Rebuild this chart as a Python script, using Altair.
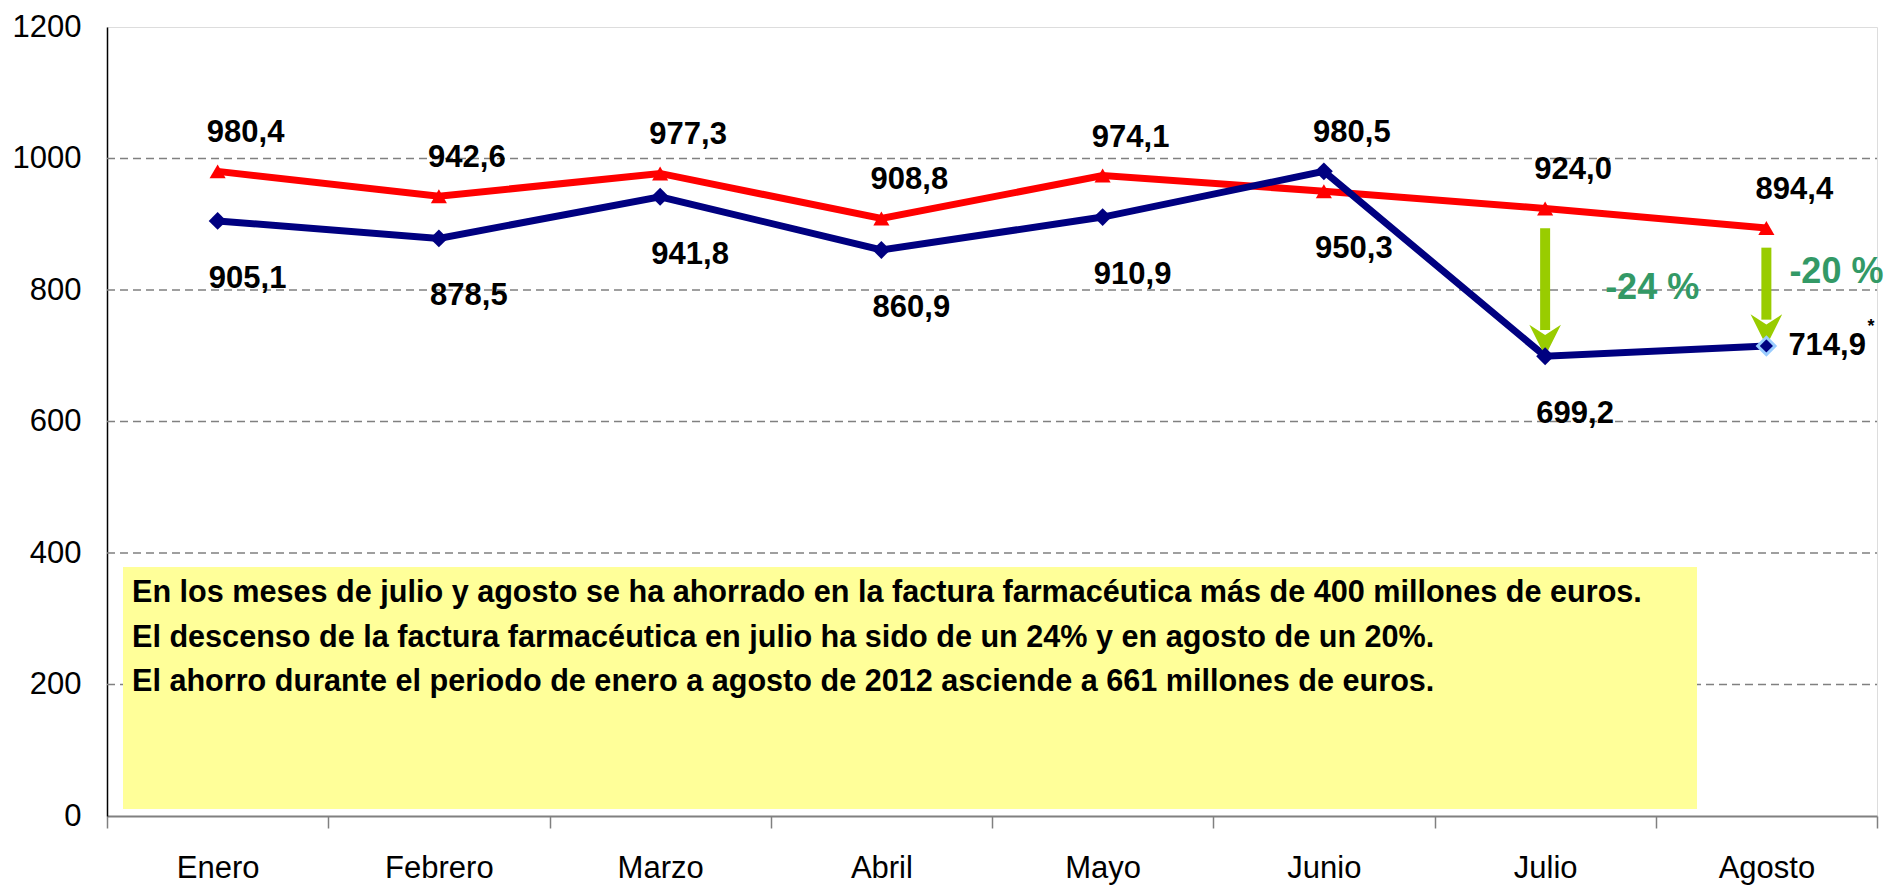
import altair as alt
import pandas as pd

# ---- data ----
months = ["Enero", "Febrero", "Marzo", "Abril", "Mayo", "Junio", "Julio", "Agosto"]
serie_2011 = [980.4, 942.6, 977.3, 908.8, 974.1, 950.3, 924.0, 894.4]   # red line
serie_2012 = [905.1, 878.5, 941.8, 860.9, 910.9, 980.5, 699.2, 714.9]   # navy line
y_ticks = [0, 200, 400, 600, 800, 1000, 1200]
grid_values = [200, 400, 600, 800, 1000]
arrow_months = ["Julio", "Agosto"]
note_lines = [
    "En los meses de julio y agosto se ha ahorrado en la factura farmacéutica más de 400 millones de euros.",
    "El descenso de la factura farmacéutica en julio ha sido de un 24% y en agosto de un 20%.",
    "El ahorro durante el periodo de enero a agosto de 2012 asciende a 661 millones de euros.",
]

W, H = 1770, 789
FONT = "Liberation Sans"

rows = []
for m, a, b in zip(months, serie_2011, serie_2012):
    rows.append({"mes": m, "serie": "2011", "valor": a, "otro": b})
    rows.append({"mes": m, "serie": "2012", "valor": b, "otro": a})
df = pd.DataFrame(rows)

arrows = pd.DataFrame({
    "mes": arrow_months,
    "rojo": [serie_2011[months.index(m)] for m in arrow_months],
    "azul": [serie_2012[months.index(m)] for m in arrow_months],
})

xs = alt.Scale(domain=months, type="band", paddingInner=0, paddingOuter=0)
ys = alt.Scale(domain=[0, 1200], nice=False, zero=True)

X = alt.X("mes:N", scale=xs, sort=months, title=None,
          axis=alt.Axis(labelAngle=0, labelFont=FONT, labelFontSize=31, labelColor="black",
                        labelPadding=25, tickBand="extent", tickSize=12, tickColor="#808080",
                        tickWidth=1.5, domainColor="#808080", domainWidth=2, grid=False))
Y = alt.Y("valor:Q", scale=ys, title=None,
          axis=alt.Axis(values=y_ticks, format="d", labelFont=FONT, labelFontSize=31,
                        labelColor="black", labelPadding=26, ticks=False, domainColor="black",
                        domainWidth=1.5, grid=False))

base = alt.Chart(df)

grid = alt.Chart(pd.DataFrame({"g": grid_values})).mark_rule(
    color="#808080", strokeWidth=1.5, strokeDash=[8, 5]
).encode(y=alt.Y("g:Q", scale=ys), x=alt.value(0), x2=alt.value(W))

box = alt.Chart(pd.DataFrame({"t": [0]})).mark_rect(color="#FFFF99").encode(
    x=alt.value(16), x2=alt.value(1590), y=alt.value(540), y2=alt.value(782))

note = alt.Chart(pd.DataFrame({"t": [note_lines]})).mark_text(
    align="left", baseline="middle", font=FONT, fontSize=30.6, fontWeight="bold",
    lineHeight=44.5, color="black"
).encode(x=alt.value(25), y=alt.value(566), text="t")

color = alt.Color("serie:N", scale=alt.Scale(domain=["2011", "2012"], range=["#FF0000", "#000080"]),
                  legend=None)

lines = base.mark_line(strokeWidth=7).encode(x=X, y=Y, color=color, detail="serie:N")

red_pts = base.transform_filter("datum.serie == '2011'").mark_point(
    shape="triangle-up", filled=True, size=260, color="#FF0000", opacity=1
).encode(x=X, y=Y)

blue_pts = base.transform_filter("datum.serie == '2012'").mark_point(
    shape="diamond", filled=True, size=320, color="#000080", opacity=1
).encode(x=X, y=Y)

last_pt = base.transform_filter(f"datum.serie == '2012' && datum.mes == '{months[-1]}'").mark_point(
    shape="diamond", filled=True, size=300, color="#000080", stroke="#99CCFF", strokeWidth=3, opacity=1
).encode(x=X, y=Y)

lab = base.transform_calculate(
    txt="replace(format(datum.valor, '.1f'), '.', ',')"
)
label_style = dict(font=FONT, fontSize=31, fontWeight="bold", color="black")

labels_above = lab.transform_filter(
    "datum.valor >= datum.otro"
).mark_text(dx=28, dy=-38, **label_style).encode(x=X, y=Y, text="txt:N")

labels_below = lab.transform_filter(
    f"datum.valor < datum.otro && datum.mes != '{months[-1]}'"
).mark_text(dx=30, dy=58, **label_style).encode(x=X, y=Y, text="txt:N")

label_last = lab.transform_filter(
    f"datum.valor < datum.otro && datum.mes == '{months[-1]}'"
).mark_text(dx=22, align="left", **label_style).encode(x=X, y=Y, text="txt:N")

star = lab.transform_filter(
    f"datum.valor < datum.otro && datum.mes == '{months[-1]}'"
).mark_text(dx=101, dy=-19, align="left", font=FONT, fontSize=18, fontWeight="bold",
            color="black").encode(x=X, y=Y, text=alt.value("*"))

arrow_base = alt.Chart(arrows).transform_calculate(
    top="datum.rojo - 30", shaft_end="datum.azul + 40",
    pct="'-' + format(abs(datum.azul - datum.rojo) / datum.rojo * 100, '.0f') + ' %'",
    mid="(datum.rojo + datum.azul) / 2"
)

AX = alt.X("mes:N", scale=xs, sort=months)

shaft = arrow_base.mark_rule(color="#99CC00", strokeWidth=10).encode(
    x=AX, y=alt.Y("top:Q", scale=ys), y2="shaft_end:Q")

head = arrow_base.mark_point(
    shape="M0,0 L-1,-2 L0,-1.35 L1,-2 Z", filled=True, size=1000, color="#99CC00", opacity=1
).encode(x=AX, y=alt.Y("azul:Q", scale=ys))

pct_style = dict(align="left", font=FONT, fontSize=36, fontWeight="bold", color="#339966")

pct_first = arrow_base.transform_filter(f"datum.mes == '{arrow_months[0]}'").mark_text(
    dx=60, dy=6, **pct_style
).encode(x=AX, y=alt.Y("mid:Q", scale=ys), text="pct:N")

pct_last = arrow_base.transform_filter(f"datum.mes == '{arrow_months[-1]}'").mark_text(
    dx=23, dy=-15, **pct_style
).encode(x=AX, y=alt.Y("mid:Q", scale=ys), text="pct:N")

chart = alt.layer(
    grid, box, note, lines, shaft, head, red_pts, blue_pts, last_pt,
    labels_above, labels_below, label_last, star, pct_first, pct_last
).properties(
    width=W, height=H, autosize="none",
    padding={"left": 107, "top": 27, "right": 13, "bottom": 72}
).configure_view(stroke=None).configure(background="white")

chart.save("out.html", embed_options={"renderer": "svg", "actions": False})
